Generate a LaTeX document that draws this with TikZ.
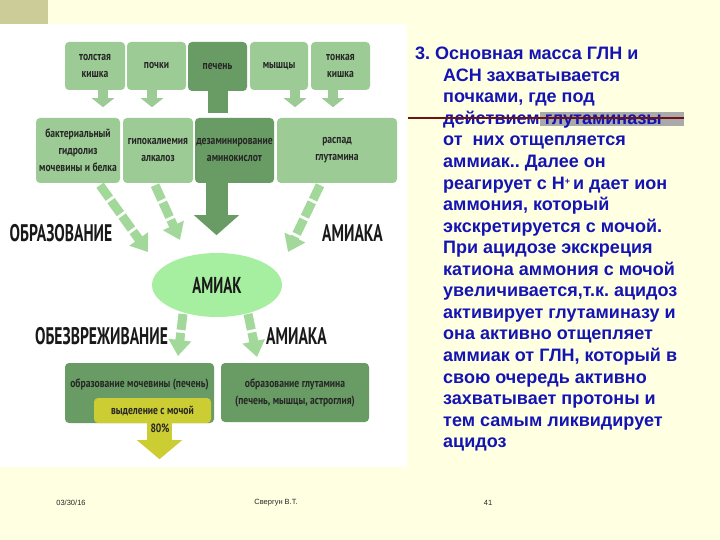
\documentclass[tikz,border=0pt]{standalone}
\usepackage{fontspec}
\setmainfont{Liberation Sans}
\newfontfamily\cond[FakeStretch=0.8]{PT Sans}
\newfontfamily\condbig[FakeStretch=0.65]{PT Sans}
\usetikzlibrary{arrows.meta,shapes.geometric}
\definecolor{bg}{RGB}{255,255,225}
\definecolor{khaki}{RGB}{204,204,153}
\definecolor{lgreen}{RGB}{157,203,149}
\definecolor{dgreen}{RGB}{104,156,100}
\definecolor{egreen}{RGB}{166,238,160}
\definecolor{sgreen}{RGB}{163,216,155}
\definecolor{olive}{RGB}{204,204,51}
\definecolor{txtblue}{RGB}{20,20,180}
\definecolor{hl}{RGB}{170,170,170}
\definecolor{rline}{RGB}{110,20,20}
\begin{document}
\begin{tikzpicture}[x=1pt,y=-1pt,
  box/.style={rounded corners=4pt, inner sep=1pt, align=center,
    font=\cond\bfseries\fontsize{12}{17}\selectfont, text=black!85},
  lbox/.style={box, fill=lgreen},
  dbox/.style={box, fill=dgreen},
  biglbl/.style={inner sep=0pt, font=\condbig\bfseries\fontsize{24}{26}\selectfont, text=black!90},
  sarrow/.style={draw=lgreen, line width=10pt, -{Triangle[width=22pt,length=9pt]}},
  darrow/.style={draw=dgreen, line width=22pt, -{Triangle[width=44pt,length=20pt]}},
  stripe/.style={draw=sgreen, line width=9pt, dash pattern=on 16pt off 3pt, -{Triangle[width=22pt,length=16pt]}},
  yarrow/.style={draw=olive, line width=25pt, -{Triangle[width=44pt,length=19pt]}},
  foot/.style={inner sep=0pt, font=\fontsize{7.5}{9}\selectfont, text=black!85}
]
\useasboundingbox (0,0) rectangle (720,540);
\fill[bg] (0,0) rectangle (720,540);
\fill[khaki] (0,0) rectangle (48,24);
\fill[white] (0,24) rectangle (407,467);

% top row
\node[lbox, minimum width=60pt, minimum height=48pt] (k1) at (95,66) {толстая\\кишка};
\node[lbox, minimum width=59pt, minimum height=48pt] (k2) at (156.5,66) {почки};
\node[dbox, minimum width=59pt, minimum height=49pt] (k3) at (217.5,66.5) {печень};
\node[lbox, minimum width=58pt, minimum height=48pt] (k4) at (279,66) {мышцы};
\node[lbox, minimum width=59pt, minimum height=48pt] (k5) at (340.5,66) {тонкая\\кишка};

% second row
\node[lbox, minimum width=84pt, minimum height=65pt] (A) at (78,150.5) {бактериальный\\гидролиз\\мочевины и белка};
\node[lbox, minimum width=70pt, minimum height=65pt] (B) at (158,150.5) {гипокалиемия\\алкалоз};
\node[dbox, minimum width=79pt, minimum height=65pt] (C) at (234.5,150.5) {дезаминирование\\аминокислот};
\node[lbox, minimum width=120pt, minimum height=65pt] (D) at (337,150.5) {распад\\глутамина};

% arrows from top row
\draw[sarrow] ([xshift=8pt]k1.south) -- ++(0,17);
\draw[sarrow] ([xshift=-4.5pt]k2.south) -- ++(0,17);
\draw[sarrow] ([xshift=16pt]k4.south) -- ++(0,17);
\draw[sarrow] ([xshift=-7.5pt]k5.south) -- ++(0,17);
\draw[draw=dgreen, line width=20pt] (k3.south) -- ++(0,22);

% ellipse
\node[ellipse, fill=egreen, minimum width=130pt, minimum height=64pt, inner sep=0pt,
  font=\condbig\bfseries\fontsize{23}{25}\selectfont, text=black!90] (am) at (217,285) {АМИАК};

% arrows into ellipse
\coordinate (tA) at (148,252);
\coordinate (tB) at (180,240);
\coordinate (tD) at (288,252);
\draw[stripe] ([xshift=22pt,yshift=-2pt]A.south) -- (tA);
\draw[stripe] ([xshift=-3pt,yshift=-2pt]B.south) -- (tB);
\draw[stripe] ([xshift=-17pt,yshift=-2pt]D.south) -- (tD);
\draw[darrow] ([xshift=-18pt]C.south) -- ++(0,52);

% labels
\node[biglbl] (obr) at (61,233.5) {ОБРАЗОВАНИЕ};
\node[biglbl] (am1) at (352.5,233.5) {АМИАКА};
\node[biglbl] (obz) at (101.5,336) {ОБЕЗВРЕЖИВАНИЕ};
\node[biglbl] (am2) at (296.5,336) {АМИАКА};

% arrows out of ellipse
\coordinate (sL) at (183,314);
\coordinate (tL) at (178,356);
\coordinate (sR) at (248,314);
\coordinate (tR) at (257,357);
\draw[stripe] (sL) -- (tL);
\draw[stripe] (sR) -- (tR);

% bottom row
\node[dbox, minimum width=149pt, minimum height=60pt, text height=8pt, text depth=20pt] (E1) at (139.5,393) {образование мочевины (печень)};
\node[dbox, minimum width=148pt, minimum height=59pt] (F) at (295,392.5) {образование глутамина\\(печень, мышцы, астроглия)};
\node[box, fill=olive, minimum width=117pt, minimum height=25pt] (Y) at (152.5,410.5) {выделение с мочой};
\draw[yarrow] ([xshift=7pt]Y.south) -- ++(0,36);
\node[box, inner sep=0pt] (pc) at (160,428) {80\%};

% right text
\fill[hl] (540,112) rectangle (684,126);
\node[anchor=north west, inner sep=0pt, text=txtblue,
  font=\bfseries\fontsize{18}{21.55}\selectfont] (txt) at (415,47)
{\parbox[t]{300pt}{\raggedright\frenchspacing\parindent=0pt\leftskip=28pt
\hspace*{-28pt}3. Основная масса ГЛН и\\
АСН захватывается\\
почками, где под\\
действием глутаминазы\\
от\ \ них отщепляется\\
аммиак.. Далее он\\
реагирует с Н\raisebox{5pt}{\fontsize{9}{9}\selectfont +}\,и дает ион\\
аммония, который\\
экскретируется с мочой.\\
При ацидозе экскреция\\
катиона аммония с мочой\\
увеличивается,т.к. ацидоз\\
активирует глутаминазу и\\
она активно отщепляет\\
аммиак от ГЛН, который в\\
свою очередь активно\\
захватывает протоны и\\
тем самым ликвидирует\\
ацидоз}};
\draw[rline, line width=1.3pt] (408,118) -- (684,118);

% footer
\node[foot] (date) at (71,503) {03/30/16};
\node[foot] (auth) at (276,503) {Свергун В.Т.};
\node[foot] (num) at (488,503) {41};
\end{tikzpicture}
\end{document}
